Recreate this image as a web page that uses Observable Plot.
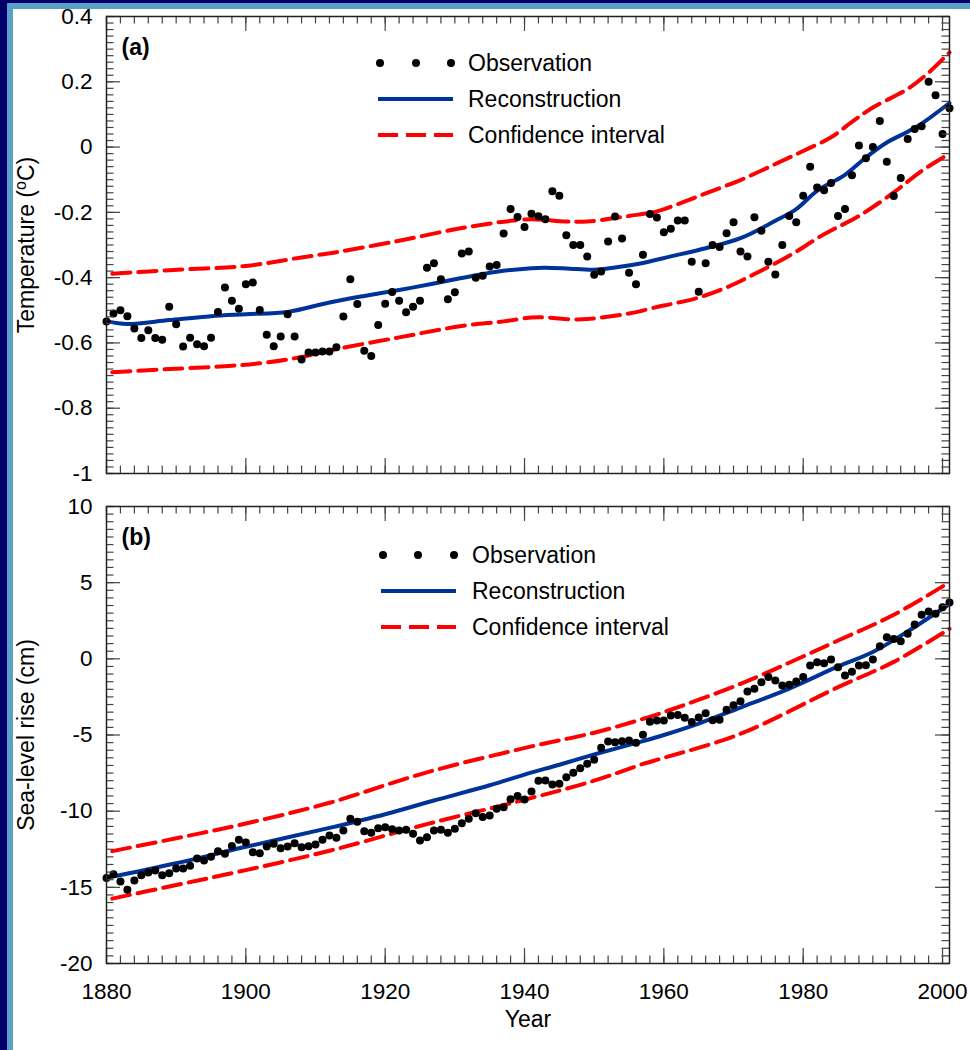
<!DOCTYPE html>
<html><head><meta charset="utf-8">
<script src="https://cdn.jsdelivr.net/npm/d3@7"></script>
<script src="https://cdn.jsdelivr.net/npm/@observablehq/plot@0.6"></script>
<style>
html,body{margin:0;padding:0;background:#fff;}
#page{position:relative;width:970px;height:1050px;overflow:hidden;background:#fff;font-family:Arial,"Liberation Sans",sans-serif;}
.panel{position:absolute;left:0;}
.bar{position:absolute;}
#legend{position:absolute;left:0;top:0;pointer-events:none;}
</style></head><body><div id="page"></div>
<script>
// ---------------- data ----------------
const years = d3.range(1880, 2002);
const tempObs = [
 -0.534,-0.51,-0.50,-0.518,-0.556,-0.585,-0.561,-0.585,-0.59,-0.489,
 -0.543,-0.611,-0.584,-0.604,-0.61,-0.584,-0.505,-0.43,-0.471,-0.495,
 -0.42,-0.415,-0.499,-0.575,-0.61,-0.58,-0.512,-0.58,-0.651,-0.629,
 -0.629,-0.626,-0.626,-0.613,-0.519,-0.405,-0.481,-0.624,-0.64,-0.545,
 -0.48,-0.444,-0.471,-0.506,-0.489,-0.471,-0.37,-0.356,-0.405,-0.466,
 -0.445,-0.326,-0.32,-0.40,-0.394,-0.366,-0.361,-0.265,-0.19,-0.214,
 -0.245,-0.204,-0.212,-0.221,-0.135,-0.149,-0.27,-0.30,-0.30,-0.335,
 -0.391,-0.381,-0.289,-0.213,-0.28,-0.385,-0.42,-0.33,-0.205,-0.216,
 -0.261,-0.25,-0.225,-0.225,-0.351,-0.443,-0.356,-0.30,-0.306,-0.264,
 -0.23,-0.32,-0.335,-0.215,-0.256,-0.351,-0.39,-0.30,-0.211,-0.23,
 -0.149,-0.06,-0.124,-0.132,-0.11,-0.211,-0.19,-0.086,0.005,-0.034,
 0.0,0.08,-0.045,-0.15,-0.095,0.025,0.055,0.064,0.2,0.159,
 0.04,0.119];
const tempReconYears = [1880,1883,1889,1895,1900,1906,1912,1917,1922,1927,1931,1936,1941,1943,1946,1950,1953,1957,1961,1966,1971,1976,1979,1982,1986,1989,1992,1995,1997,2001];
const tempRecon = [-0.534,-0.542,-0.53,-0.518,-0.512,-0.505,-0.476,-0.456,-0.438,-0.418,-0.401,-0.382,-0.371,-0.370,-0.372,-0.376,-0.369,-0.355,-0.335,-0.31,-0.279,-0.226,-0.19,-0.134,-0.085,-0.032,0.014,0.047,0.072,0.135];
const tempUpperYears = [1880,1889,1900,1908,1913,1922,1931,1938,1941,1946,1949,1955,1959,1962,1966,1971,1976,1980,1984,1987,1990,1995,1998,2001];
const tempUpper = [-0.389,-0.377,-0.364,-0.338,-0.322,-0.287,-0.248,-0.226,-0.221,-0.228,-0.228,-0.211,-0.197,-0.175,-0.142,-0.101,-0.052,-0.012,0.03,0.077,0.121,0.178,0.228,0.29];
const tempLowerYears = [1880,1889,1898,1903,1908,1913,1922,1931,1937,1941,1943,1947,1949,1955,1959,1961,1965,1969,1973,1978,1983,1988,1993,1997,2001];
const tempLower = [-0.691,-0.680,-0.670,-0.660,-0.643,-0.619,-0.583,-0.548,-0.534,-0.522,-0.522,-0.528,-0.527,-0.51,-0.49,-0.481,-0.461,-0.43,-0.389,-0.333,-0.267,-0.211,-0.139,-0.073,-0.02];

const seaObs = [
 -14.38,-14.14,-14.62,-15.16,-14.55,-14.2,-14.03,-13.9,-14.2,-14.07,
 -13.76,-13.76,-13.59,-13.11,-13.24,-13.0,-12.63,-12.8,-12.28,-11.88,
 -12.06,-12.69,-12.76,-12.32,-12.14,-12.43,-12.32,-12.1,-12.37,-12.3,
 -12.19,-11.88,-11.6,-11.75,-11.27,-10.5,-10.7,-11.32,-11.42,-11.12,
 -11.05,-11.18,-11.27,-11.22,-11.49,-11.93,-11.71,-11.27,-11.22,-11.42,
 -11.16,-10.79,-10.5,-10.13,-10.39,-10.28,-9.84,-9.74,-9.22,-9.0,
 -9.23,-8.71,-8.0,-7.99,-8.25,-8.2,-7.77,-7.48,-7.18,-6.89,
 -6.63,-5.84,-5.43,-5.47,-5.41,-5.36,-5.51,-4.99,-4.13,-4.05,
 -4.05,-3.72,-3.68,-3.87,-4.14,-3.85,-3.57,-4.03,-4.0,-3.35,
 -3.04,-2.78,-2.14,-1.97,-1.53,-1.2,-1.42,-1.75,-1.7,-1.49,
 -1.2,-0.44,-0.22,-0.29,-0.04,-0.55,-1.09,-0.85,-0.44,-0.42,
 -0.04,0.83,1.42,1.31,1.16,1.64,2.25,2.89,3.11,2.96,
 3.39,3.70];
const seaReconYears = [1880,1890,1900,1912,1920,1927,1935,1940,1945,1951,1957,1960,1965,1971,1978,1985,1990,1995,2001];
const seaRecon = [-14.38,-13.42,-12.34,-11.1,-10.2,-9.3,-8.3,-7.6,-6.95,-6.15,-5.4,-5.0,-4.25,-3.2,-1.95,-0.5,0.45,1.8,3.6];
const seaUpperYears = [1880,1890,1900,1912,1926,1941,1950,1957,1960,1971,1985,1993,2001];
const seaUpper = [-12.7,-11.78,-10.81,-9.45,-7.45,-5.75,-4.85,-3.94,-3.5,-1.64,1.2,2.89,5.03];
const seaLowerYears = [1880,1890,1900,1912,1926,1940,1950,1957,1960,1971,1985,1993,2001];
const seaLower = [-15.82,-14.85,-13.87,-12.6,-10.85,-9.25,-8.0,-6.9,-6.5,-4.92,-1.86,-0.2,1.97];

const xMajorTicks = [1880,1900,1920,1940,1960,1980,2000];
const tempMajorTicks = [-1,-0.8,-0.6,-0.4,-0.2,0,0.2,0.4];
const seaMajorTicks = [-20,-15,-10,-5,0,5,10];
const legendLabels = ["Observation","Reconstruction","Confidence interval"];

// ---------------- helpers ----------------
const zip = (xs, vs) => xs.map((x, i) => ({year: x, v: vs[i]}));
const FONT = "Arial, 'Liberation Sans', sans-serif";
const BLUE = "#003399", RED = "#ff0000";
const W = 970, ML = 106, MR = 21, MT = 16;

function panel({obs, recon, upper, lower, yDomain, yMajor, yMinor, yFmt, height, marginBottom, tag, ylabel, showX}) {
  const ph = height - MT - marginBottom;
  const pw = W - ML - MR;
  const xMinor = d3.range(1880, 2001, 2);
  const tickStroke = "#444";
  const marks = [
    Plot.line(upper, {x: "year", y: "v", curve: "catmull-rom", stroke: RED, strokeWidth: 4, strokeDasharray: "18,8", strokeDashoffset: -6}),
    Plot.line(lower, {x: "year", y: "v", curve: "catmull-rom", stroke: RED, strokeWidth: 4, strokeDasharray: "18,8", strokeDashoffset: -6}),
    Plot.line(recon, {x: "year", y: "v", curve: "catmull-rom", stroke: BLUE, strokeWidth: 4}),
    Plot.dot(obs, {x: "year", y: "v", r: 4, fill: "black"}),
    // inward ticks
    Plot.tickX(xMinor, {x: d => d, insetTop: ph - 7.5, stroke: tickStroke, strokeWidth: 1.2}),
    Plot.tickX(xMinor, {x: d => d, insetBottom: ph - 7.5, stroke: tickStroke, strokeWidth: 1.2}),
    Plot.tickX(xMajorTicks, {x: d => d, insetTop: ph - 15, stroke: tickStroke, strokeWidth: 1.2}),
    Plot.tickX(xMajorTicks, {x: d => d, insetBottom: ph - 15, stroke: tickStroke, strokeWidth: 1.2}),
    Plot.tickY(yMinor, {y: d => d, insetRight: pw - 7.5, stroke: tickStroke, strokeWidth: 1.2}),
    Plot.tickY(yMinor, {y: d => d, insetLeft: pw - 7.5, stroke: tickStroke, strokeWidth: 1.2}),
    Plot.tickY(yMajor, {y: d => d, insetRight: pw - 14, stroke: tickStroke, strokeWidth: 1.2}),
    Plot.tickY(yMajor, {y: d => d, insetLeft: pw - 14, stroke: tickStroke, strokeWidth: 1.2}),
    Plot.frame({stroke: "#222", strokeWidth: 1.5}),
    Plot.axisY({ticks: yMajor, tickSize: 0, tickPadding: 14, tickFormat: yFmt, label: null, fontSize: 22.5}),
    Plot.text([tag], {text: d => d, frameAnchor: "top-left", dx: 15, dy: 31, textAnchor: "start", lineAnchor: "middle", fontWeight: "bold", fontSize: 23}),
    Plot.text([ylabel], {text: d => d, frameAnchor: "left", rotate: -90, dx: -89, textAnchor: "middle", lineAnchor: "top", fontSize: 23})
  ];
  if (showX) {
    marks.push(Plot.axisX({ticks: xMajorTicks, tickSize: 0, tickPadding: 20, tickFormat: d => String(d), label: null, fontSize: 22.5}));
    marks.push(Plot.text(["Year"], {text: d => d, frameAnchor: "bottom", dy: 47, lineAnchor: "top", fontSize: 23}));
  }
  return Plot.plot({
    width: W, height,
    marginLeft: ML, marginRight: MR, marginTop: MT, marginBottom,
    style: {fontFamily: FONT, fontSize: "22.5px", color: "#000", background: "transparent", overflow: "visible"},
    x: {domain: [1880, 2001], axis: showX ? undefined : null},
    y: {domain: yDomain},
    marks
  });
}

const page = document.getElementById("page");

const svgA = panel({
  obs: zip(years, tempObs), recon: zip(tempReconYears, tempRecon),
  upper: zip(tempUpperYears, tempUpper), lower: zip(tempLowerYears, tempLower),
  yDomain: [-1, 0.4], yMajor: tempMajorTicks,
  yMinor: d3.range(-50, 21).map(i => i * 0.02),
  yFmt: d => String(+(+d).toFixed(1)),
  height: 490, marginBottom: 17, tag: "(a)", ylabel: "Temperature (oC)", showX: false
});
svgA.classList.add("panel"); svgA.style.top = "0px";
page.appendChild(svgA);

const svgB = panel({
  obs: zip(years, seaObs), recon: zip(seaReconYears, seaRecon),
  upper: zip(seaUpperYears, seaUpper), lower: zip(seaLowerYears, seaLower),
  yDomain: [-20, 10], yMajor: seaMajorTicks,
  yMinor: d3.range(-40, 21).map(i => i * 0.5),
  yFmt: d => String(d),
  height: 560, marginBottom: 87, tag: "(b)", ylabel: "Sea-level rise (cm)", showX: true
});
svgB.classList.add("panel"); svgB.style.top = "490px";
page.appendChild(svgB);

// superscript o in the temperature label
d3.select(svgA).selectAll("text").filter(function() { return this.textContent === "Temperature (oC)"; })
  .each(function() {
    const t = d3.select(this);
    t.text(null);
    t.append("tspan").text("Temperature (");
    t.append("tspan").attr("dy", -8).attr("font-size", 16).text("o");
    t.append("tspan").attr("dy", 8).text("C)");
  });

// ---------------- legends (overlay) ----------------
const leg = d3.select(page).append("svg").attr("id", "legend").attr("width", W).attr("height", 1050)
  .style("font-family", FONT).style("font-size", "23px");
function legend(x0, x1, dotXs, textX, rows) {
  const g = leg.append("g");
  g.selectAll("circle").data(dotXs).join("circle").attr("cx", d => d).attr("cy", rows[0]).attr("r", 4).attr("fill", "black");
  g.append("line").attr("x1", x0).attr("x2", x1).attr("y1", rows[1]).attr("y2", rows[1]).attr("stroke", BLUE).attr("stroke-width", 4);
  g.append("line").attr("x1", x0).attr("x2", x1).attr("y1", rows[2]).attr("y2", rows[2]).attr("stroke", RED).attr("stroke-width", 4).attr("stroke-dasharray", "20,8");
  g.selectAll("text").data(legendLabels).join("text").attr("x", textX).attr("y", (d, i) => rows[i]).attr("dy", "0.35em").text(d => d);
}
legend(378, 453, [380, 416, 451], 468, [63, 99, 135]);
legend(381, 456, [383, 418, 454], 472, [555, 591, 627]);

// ---------------- frame bars ----------------
function bar(l, t, w, h, c) {
  const d = document.createElement("div"); d.className = "bar";
  Object.assign(d.style, {left: l + "px", top: t + "px", width: w + "px", height: h + "px", background: c});
  page.appendChild(d);
}
bar(0, 0, W, 3, "#000068");
bar(7, 3, W - 7, 6, "#5a9fc6");
bar(0, 0, 7, 1050, "#000068");
bar(7, 3, 6, 1047, "#5a9fc6");
</script></body></html>
